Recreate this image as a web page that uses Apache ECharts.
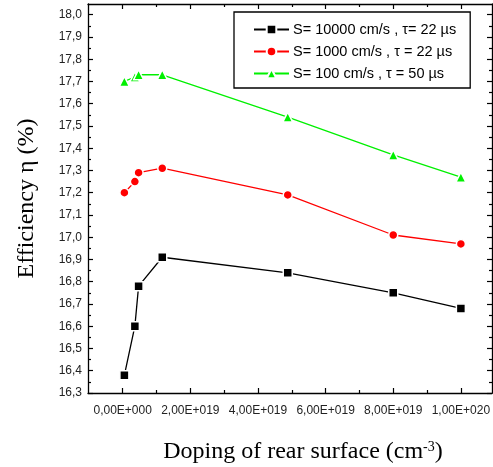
<!DOCTYPE html>
<html>
<head>
<meta charset="utf-8">
<script src="https://cdn.jsdelivr.net/npm/echarts@6/dist/echarts.min.js"></script>
<style>
  html, body { margin: 0; padding: 0; background: #fff; }
  #chart { width: 493px; height: 467px; }
</style>
</head>
<body>
<div id="chart"></div>
<script>
// Rear-surface doping (cm^-3)
const doping = [5e17, 3.6e18, 4.7e18, 1.17e19, 4.88e19, 8e19, 1e20];

// Efficiency (%) for each recombination velocity / lifetime pair
const effS10000 = [16.38, 16.60, 16.78, 16.91, 16.84, 16.75, 16.68];
const effS1000  = [17.20, 17.25, 17.29, 17.31, 17.19, 17.01, 16.97];
const effS100   = [17.70, 17.72, 17.73, 17.73, 17.54, 17.37, 17.27];

const seriesNames = [
  'S= 10000 cm/s , \u03C4= 22 \u00B5s',
  'S= 1000 cm/s , \u03C4 = 22 \u00B5s',
  'S= 100 cm/s , \u03C4 = 50 \u00B5s'
];

// Axis ticks
const xMajorTicks = [0, 2e19, 4e19, 6e19, 8e19, 1e20];
const xMinorTicks = [1e19, 3e19, 5e19, 7e19, 9e19];
const yMajorTicks = [16.3, 16.4, 16.5, 16.6, 16.7, 16.8, 16.9, 17.0, 17.1, 17.2, 17.3, 17.4, 17.5, 17.6, 17.7, 17.8, 17.9, 18.0];
const yMinorTicks = [16.35, 16.45, 16.55, 16.65, 16.75, 16.85, 16.95, 17.05, 17.15, 17.25, 17.35, 17.45, 17.55, 17.65, 17.75, 17.85, 17.95];

const X_MIN = -1.026e19, X_MAX = 1.092e20;
const Y_MIN = 16.3, Y_MAX = 18.048;

function sciLabel(v) {
  if (v === 0) return '0,00E+000';
  const e = Math.floor(Math.log10(v) + 1e-9);
  const m = v / Math.pow(10, e);
  return m.toFixed(2).replace('.', ',') + 'E+' + String(e).padStart(3, '0');
}

const axisLine = { show: true, onZero: false, lineStyle: { color: '#000', width: 1.3 } };
const noLine = { show: false, onZero: false };

function xAxisDef(position, ticks, len, showLine, showLabel, extra) {
  return Object.assign({
    type: 'value', min: X_MIN, max: X_MAX, position: position,
    axisLine: showLine ? axisLine : noLine,
    axisTick: { show: true, inside: true, length: len, customValues: ticks, lineStyle: { color: '#000', width: 1.2 } },
    axisLabel: showLabel ? {
      show: true, customValues: ticks, formatter: sciLabel, margin: 12,
      fontFamily: 'Liberation Sans', fontSize: 12, color: '#222'
    } : { show: false },
    splitLine: { show: false }
  }, extra || {});
}

function yAxisDef(position, ticks, len, showLine, showLabel, extra) {
  return Object.assign({
    type: 'value', min: Y_MIN, max: Y_MAX, position: position,
    axisLine: showLine ? axisLine : noLine,
    axisTick: { show: true, inside: true, length: len, customValues: ticks, lineStyle: { color: '#000', width: 1.2 } },
    axisLabel: showLabel ? {
      show: true, customValues: ticks, formatter: v => v.toFixed(1).replace('.', ','), margin: 6,
      fontFamily: 'Liberation Sans', fontSize: 12, color: '#222'
    } : { show: false },
    splitLine: { show: false }
  }, extra || {});
}

const chart = echarts.init(document.getElementById('chart'), null, { renderer: 'canvas' });

const markerBorder = { borderColor: '#fff', borderWidth: 1.5 };

chart.setOption({
  animation: false,
  backgroundColor: '#fff',
  grid: { left: 88, top: 4, right: 1, bottom: 74, containLabel: false, outerBoundsMode: 'none' },
  legend: {
    orient: 'vertical', left: 234, top: 12,
    data: seriesNames,
    borderColor: '#000', borderWidth: 1.3, backgroundColor: '#fff',
    padding: [10, 14, 7, 19],
    itemWidth: 35, itemHeight: 12, itemGap: 7,
    textStyle: { fontFamily: 'Liberation Sans', fontSize: 14.5, color: '#000', padding: [0, 0, 0, -1] }
  },
  xAxis: [
    xAxisDef('bottom', xMajorTicks, 5, true, true, {
      name: 'Doping of rear surface (cm{sup|-3})',
      nameLocation: 'middle', nameGap: 47,
      nameTextStyle: {
        fontFamily: 'Liberation Serif', fontSize: 24, color: '#000', padding: [0, 0, 0, 26],
        rich: { sup: { fontFamily: 'Liberation Serif', fontSize: 14, verticalAlign: 'top', color: '#000' } }
      }
    }),
    xAxisDef('bottom', xMinorTicks, 3, false, false),
    xAxisDef('top', xMajorTicks, 5, true, false),
    xAxisDef('top', xMinorTicks, 3, false, false)
  ],
  yAxis: [
    yAxisDef('left', yMajorTicks, 5, true, true, {
      name: 'Efficiency \u03B7 (%)',
      nameLocation: 'middle', nameGap: 49,
      nameTextStyle: { fontFamily: 'Liberation Serif', fontSize: 24, color: '#000' }
    }),
    yAxisDef('left', yMinorTicks, 3, false, false),
    yAxisDef('right', yMajorTicks, 5, true, false),
    yAxisDef('right', yMinorTicks, 3, false, false)
  ],
  series: [
    {
      name: seriesNames[0], type: 'line', xAxisIndex: 0, yAxisIndex: 0,
      data: doping.map((x, i) => [x, effS10000[i]]),
      symbol: 'rect', symbolSize: 9,
      lineStyle: { color: '#000', width: 1.3 },
      itemStyle: Object.assign({ color: '#000' }, markerBorder)
    },
    {
      name: seriesNames[1], type: 'line', xAxisIndex: 0, yAxisIndex: 0,
      data: doping.map((x, i) => [x, effS1000[i]]),
      symbol: 'circle', symbolSize: 9,
      lineStyle: { color: '#ff0000', width: 1.3 },
      itemStyle: Object.assign({ color: '#ff0000' }, markerBorder)
    },
    {
      name: seriesNames[2], type: 'line', xAxisIndex: 0, yAxisIndex: 0,
      data: doping.map((x, i) => [x, effS100[i]]),
      symbol: 'triangle', symbolSize: 10,
      lineStyle: { color: '#00f000', width: 1.3 },
      itemStyle: Object.assign({ color: '#00f000' }, markerBorder)
    }
  ]
});
</script>
</body>
</html>
